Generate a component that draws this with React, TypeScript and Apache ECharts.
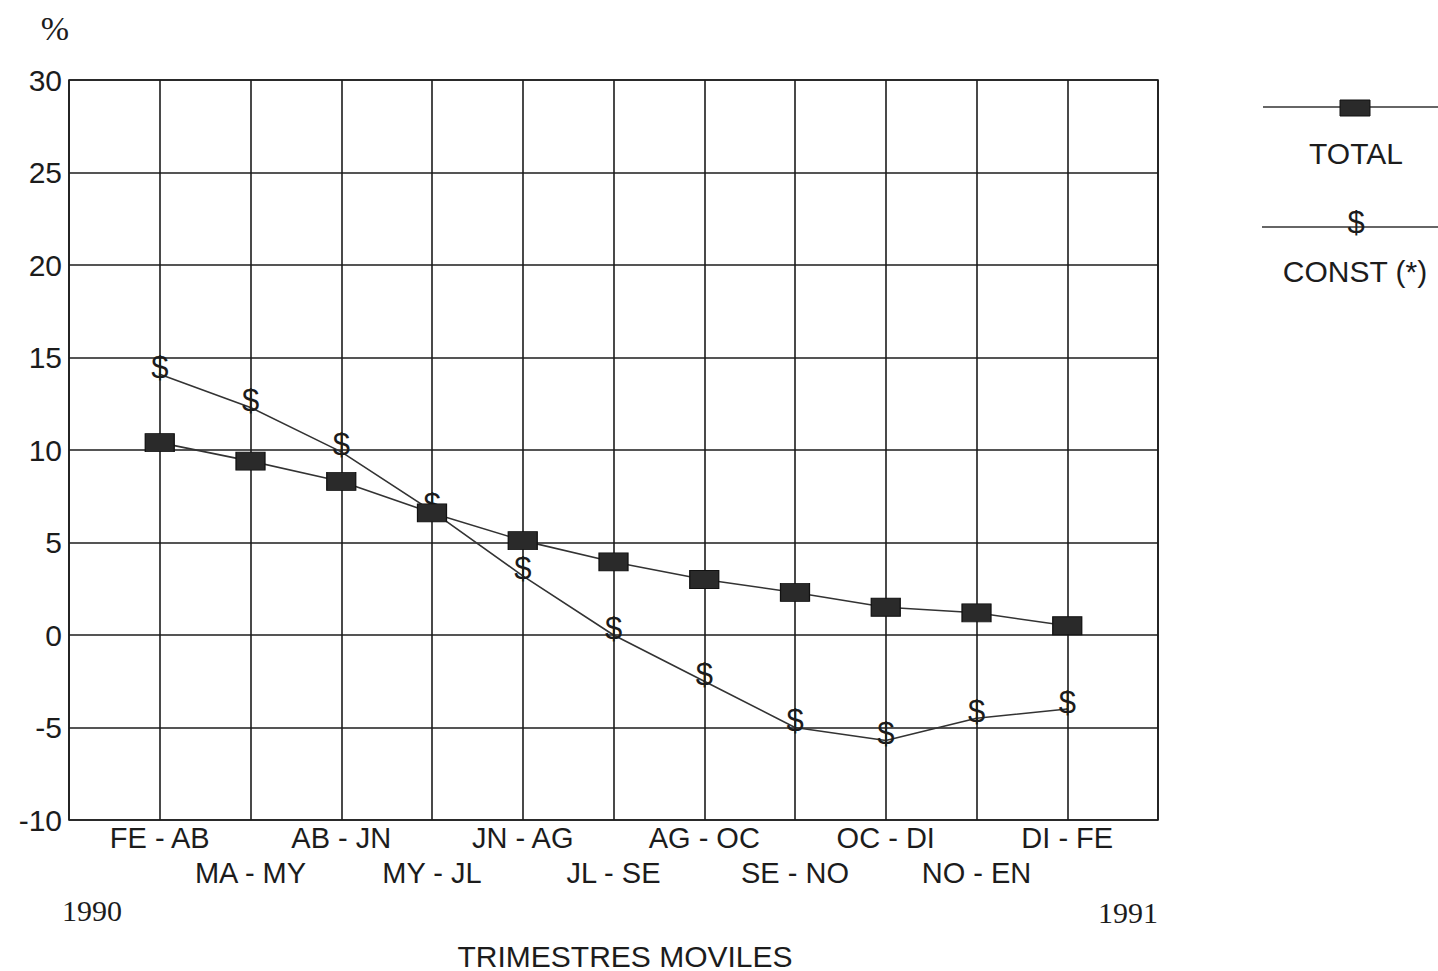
import React, { useEffect, useRef } from "react";
import * as echarts from "echarts";

const categories = [
  "FE - AB", "MA - MY", "AB - JN", "MY - JL", "JN - AG", "JL - SE",
  "AG - OC", "SE - NO", "OC - DI", "NO - EN", "DI - FE",
];
const totalValues = [10.4, 9.4, 8.3, 6.6, 5.1, 3.95, 3.0, 2.3, 1.5, 1.2, 0.5];
const constValues = [14.1, 12.3, 9.9, 6.7, 3.2, 0.0, -2.5, -5.0, -5.7, -4.5, -4.0];
const yTicks = { min: -10, max: 30, interval: 5 };
const seriesNames = ["TOTAL", "CONST (*)"];
const yearLabels = ["1990", "1991"];
const xTitle = "TRIMESTRES MOVILES";
const yUnit = "%";

const SANS = "'Liberation Sans', Arial, Helvetica, sans-serif";
const SERIF = "'Liberation Serif', 'Times New Roman', serif";
const INK = "#1c1c1c";

export default function App() {
  const ref = useRef<HTMLDivElement>(null);
  useEffect(() => {
    if (!ref.current) return;
    const chart = echarts.init(ref.current, null, { renderer: "svg" });
    const totalData = categories.map((_, i) => [i, totalValues[i]]);
    const constData = categories.map((_, i) => [i, constValues[i]]);
    chart.setOption({
      animation: false,
      backgroundColor: "#ffffff",
      grid: {
        left: 69,
        right: 280,
        top: 80,
        bottom: 151,
        show: true,
        borderColor: INK,
        borderWidth: 1.6,
        backgroundColor: "transparent",
      },
      xAxis: {
        type: "value",
        min: -1,
        max: 11,
        interval: 1,
        axisLine: { show: false },
        axisTick: { show: false },
        splitLine: { show: true, lineStyle: { color: INK, width: 1.6 } },
        axisLabel: {
          show: true,
          showMinLabel: true,
          showMaxLabel: true,
          margin: 0,
          fontSize: 29,
          lineHeight: 35,
          fontFamily: SANS,
          color: INK,
          formatter: (v: number) => {
            const i = Math.round(v);
            if (i < 0 || i >= categories.length) return "";
            return i % 2 === 0 ? categories[i] : "\n" + categories[i];
          },
        },
      },
      yAxis: {
        type: "value",
        min: yTicks.min,
        max: yTicks.max,
        interval: yTicks.interval,
        axisLine: { show: false },
        axisTick: { show: false },
        splitLine: { show: true, lineStyle: { color: INK, width: 1.6 } },
        axisLabel: {
          margin: 7,
          fontSize: 30,
          fontFamily: SANS,
          color: INK,
        },
      },
      series: [
        {
          name: seriesNames[1],
          type: "line",
          data: constData,
          symbol: "circle",
          symbolSize: 2,
          itemStyle: { color: "#333" },
          lineStyle: { color: "#333", width: 1.6 },
          label: {
            show: true,
            position: "inside",
            offset: [0, -7],
            formatter: "$",
            fontSize: 31,
            fontFamily: SANS,
            color: INK,
          },
          z: 2,
        },
        {
          name: seriesNames[0],
          type: "line",
          data: totalData,
          symbol: "rect",
          symbolSize: [29, 18],
          itemStyle: { color: "#2a2a2a", borderColor: "#111", borderWidth: 1 },
          lineStyle: { color: "#333", width: 1.6 },
          z: 3,
        },
      ],
      graphic: [
        {
          type: "text",
          x: 55,
          y: 28,
          style: { text: yUnit, font: `34px ${SERIF}`, fill: INK, textAlign: "center", textVerticalAlign: "middle" },
        },
        {
          type: "text",
          x: 92,
          y: 910,
          style: { text: yearLabels[0], font: `30px ${SERIF}`, fill: INK, textAlign: "center", textVerticalAlign: "middle" },
        },
        {
          type: "text",
          x: 1128,
          y: 912,
          style: { text: yearLabels[1], font: `30px ${SERIF}`, fill: INK, textAlign: "center", textVerticalAlign: "middle" },
        },
        {
          type: "text",
          x: 625,
          y: 956,
          style: { text: xTitle, font: `30px ${SANS}`, fill: INK, textAlign: "center", textVerticalAlign: "middle" },
        },
        // Legend: TOTAL
        {
          type: "line",
          shape: { x1: 1263, y1: 107, x2: 1438, y2: 107 },
          style: { stroke: "#333", lineWidth: 1.6 },
        },
        {
          type: "rect",
          shape: { x: 1340, y: 100, width: 30, height: 16 },
          style: { fill: "#2a2a2a", stroke: "#111", lineWidth: 1 },
        },
        {
          type: "text",
          x: 1356,
          y: 153,
          style: { text: seriesNames[0], font: `30px ${SANS}`, fill: INK, textAlign: "center", textVerticalAlign: "middle" },
        },
        // Legend: CONST
        {
          type: "line",
          shape: { x1: 1262, y1: 227, x2: 1438, y2: 227 },
          style: { stroke: "#333", lineWidth: 1.6 },
        },
        {
          type: "text",
          x: 1356,
          y: 222,
          style: { text: "$", font: `31px ${SANS}`, fill: INK, textAlign: "center", textVerticalAlign: "middle" },
        },
        {
          type: "text",
          x: 1355,
          y: 271,
          style: { text: seriesNames[1], font: `30px ${SANS}`, fill: INK, textAlign: "center", textVerticalAlign: "middle" },
        },
      ],
    });
    return () => chart.dispose();
  }, []);
  return (
    <div
      ref={ref}
      style={{ position: "fixed", left: 0, top: 0, width: 1438, height: 971, background: "#fff" }}
    />
  );
}
